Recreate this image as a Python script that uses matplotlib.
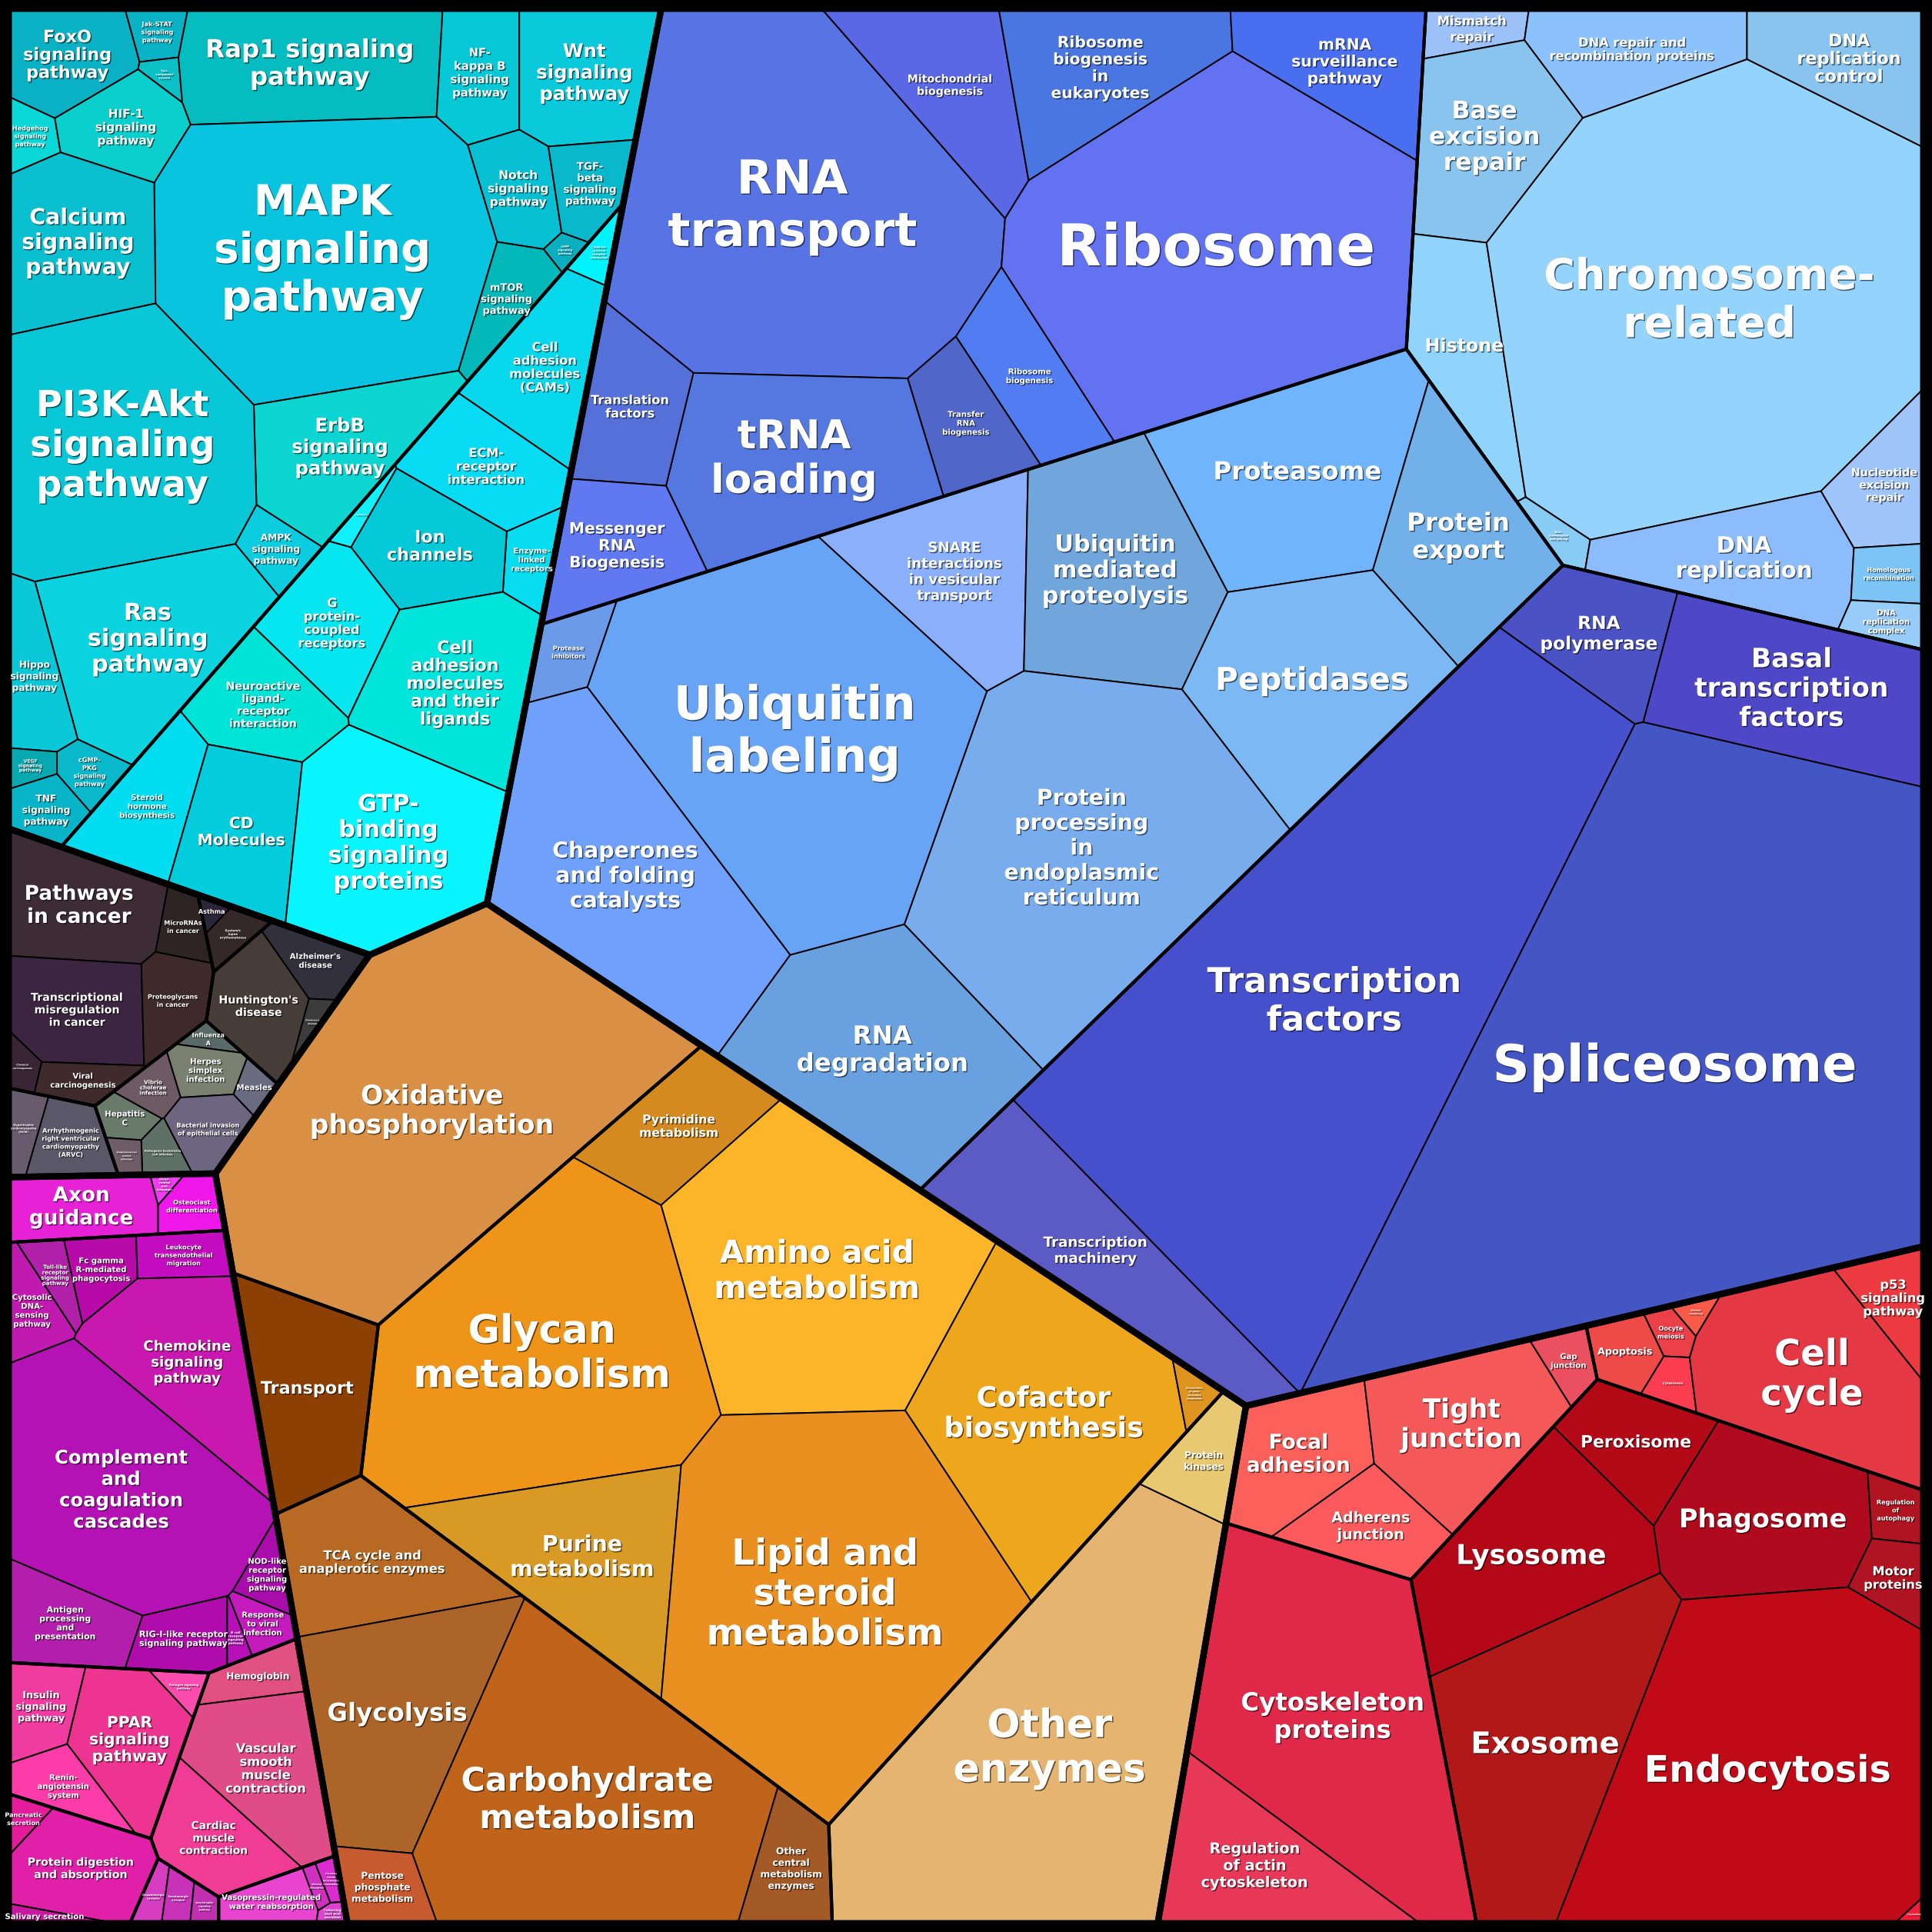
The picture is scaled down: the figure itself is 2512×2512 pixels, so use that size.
import numpy as np
import matplotlib
matplotlib.use("Agg")
import matplotlib.pyplot as plt
from matplotlib.patches import Polygon, Rectangle
import matplotlib.patheffects as pe

# ---------------------------------------------------------------------------
# data: protein mass share per pathway (arbitrary units), grouped by category
# ---------------------------------------------------------------------------
signal_transduction = [
    "FoxO\nsignaling\npathway", "Jak-STAT\nsignaling\npathway", "Two-\ncomponent\nsystem",
    "Rap1 signaling\npathway", "NF-\nkappa B\nsignaling\npathway", "Wnt\nsignaling\npathway",
    "Hedgehog\nsignaling\npathway", "HIF-1\nsignaling\npathway", "MAPK\nsignaling\npathway",
    "Calcium\nsignaling\npathway", "Notch\nsignaling\npathway", "TGF-\nbeta\nsignaling\npathway",
    "cAMP\nsignaling\npathway", "mTOR\nsignaling\npathway", "ErbB\nsignaling\npathway",
    "PI3K-Akt\nsignaling\npathway", "AMPK\nsignaling\npathway", "Ras\nsignaling\npathway",
    "Hippo\nsignaling\npathway", "VEGF\nsignaling\npathway", "cGMP-\nPKG\nsignaling\npathway",
    "TNF\nsignaling\npathway"]
signal_transduction_mass = [74, 17, 7, 188, 66, 112, 18, 62, 530, 146, 51, 41,
                            6, 41, 134, 366, 26, 206, 54, 10, 20, 26]

signaling_molecules = [
    "Cytokine-\ncytokine\nreceptor\ninteraction", "Cell\nadhesion\nmolecules\n(CAMs)",
    "ECM-\nreceptor\ninteraction", "Enzyme-\nlinked\nreceptors", "Cytokines", "Ion\nchannels",
    "G\nprotein-\ncoupled\nreceptors", "Cell\nadhesion\nmolecules\nand their\nligands",
    "Neuroactive\nligand-\nreceptor\ninteraction", "Steroid\nhormone\nbiosynthesis",
    "CD\nMolecules", "GTP-\nbinding\nsignaling\nproteins"]
signaling_molecules_mass = [12, 100, 86, 27, 8, 92, 89, 166, 83, 79, 110, 238]

cancers = ["Pathways\nin cancer", "MicroRNAs\nin cancer", "Transcriptional\nmisregulation\nin cancer",
           "Proteoglycans\nin cancer", "Chemical\ncarcinogenesis", "Viral\ncarcinogenesis"]
cancers_mass = [104, 19, 87, 38, 9, 21]
immune_diseases = ["Asthma", "Systemic\nlupus\nerythematosus"]
immune_diseases_mass = [4, 13.5]
neurodegenerative = ["Alzheimer's\ndisease", "Huntington's\ndisease", "Parkinson's\ndisease"]
neurodegenerative_mass = [29, 61, 6.5]
infectious = ["Influenza\nA", "Herpes\nsimplex\ninfection", "Measles", "Vibrio\ncholerae\ninfection",
              "Hepatitis\nC", "Bacterial invasion\nof epithelial cells",
              "Pathogenic Escherichia\ncoli infection", "Staphylococcus\naureus\ninfection"]
infectious_mass = [6, 21, 9, 15, 13, 31, 12, 7]
cardiovascular = ["Hypertrophic\ncardiomyopathy\n(HCM)",
                  "Arrhythmogenic\nright ventricular\ncardiomyopathy\n(ARVC)"]
cardiovascular_mass = [16, 34]

development = ["Axon\nguidance", "Dorso-\nventral\naxis\nformation", "Osteoclast\ndifferentiation"]
development_mass = [60, 3.5, 21]
immune_system = ["Cytosolic\nDNA-\nsensing\npathway", "Toll-like\nreceptor\nsignaling\npathway",
                 "Fc gamma\nR-mediated\nphagocytosis", "Leukocyte\ntransendothelial\nmigration",
                 "Chemokine\nsignaling\npathway", "Complement\nand\ncoagulation\ncascades",
                 "Antigen\nprocessing\nand\npresentation", "RIG-I-like receptor\nsignaling pathway",
                 "B cell\nreceptor\nsignaling\npathway", "Response\nto viral\ninfection",
                 "NOD-like\nreceptor\nsignaling\npathway"]
immune_system_mass = [30, 17, 28, 27, 146, 319, 66, 39, 6, 16, 18]
endocrine = ["Insulin\nsignaling\npathway", "PPAR\nsignaling\npathway",
             "Estrogen signaling\npathway", "Renin-\nangiotensin\nsystem"]
endocrine_mass = [39, 89, 9, 34]
circulatory = ["Hemoglobin", "Vascular\nsmooth\nmuscle\ncontraction", "Cardiac\nmuscle\ncontraction"]
circulatory_mass = [27, 109, 68]
digestive = ["Pancreatic\nsecretion", "Protein digestion\nand absorption", "Salivary secretion"]
digestive_mass = [9, 81, 7]
nervous = ["Dopaminergic\nsynapse", "Serotonergic\nsynapse", "Neurotrophin\nsignaling\npathway"]
nervous_mass = [9, 9, 6]
excretory = ["Vasopressin-regulated\nwater reabsorption", "Mineral\nabsorption",
             "Proximal\ntubule\nbicarbonate\nreclamation", "Collecting\nduct acid\nsecretion"]
excretory_mass = [26, 4, 5, 3.5]

translation = ["RNA\ntransport", "Mitochondrial\nbiogenesis", "Ribosome\nbiogenesis\nin\neukaryotes",
               "mRNA\nsurveillance\npathway", "Ribosome", "Ribosome\nbiogenesis",
               "Transfer\nRNA\nbiogenesis", "tRNA\nloading", "Translation\nfactors",
               "Messenger\nRNA\nBiogenesis"]
translation_mass = [726, 138, 159, 122, 714, 89, 73, 261, 96, 100]
replication_repair = ["Mismatch\nrepair", "DNA repair and\nrecombination proteins",
                      "DNA\nreplication\ncontrol", "Base\nexcision\nrepair", "Histone",
                      "Chromosome-\nrelated", "Non-\nhomologous\nend-joining", "DNA\nreplication",
                      "Nucleotide\nexcision\nrepair", "Homologous\nrecombination",
                      "DNA\nreplication\ncomplex"]
replication_repair_mass = [27, 112, 109, 155, 114, 1055, 14, 147, 65, 26, 20]
folding_degradation = ["SNARE\ninteractions\nin vesicular\ntransport", "Ubiquitin\nmediated\nproteolysis",
                       "Proteasome", "Protein\nexport", "Peptidases",
                       "Protein\nprocessing\nin\nendoplasmic\nreticulum", "Ubiquitin\nlabeling",
                       "Protease\ninhibitors", "Chaperones\nand folding\ncatalysts", "RNA\ndegradation"]
folding_degradation_mass = [167, 256, 281, 178, 271, 597, 675, 34, 381, 312]
transcription = ["RNA\npolymerase", "Basal\ntranscription\nfactors", "Spliceosome",
                 "Transcription\nfactors", "Transcription\nmachinery"]
transcription_mass = [104, 236, 1635, 1310, 225]

energy_metabolism = ["Oxidative\nphosphorylation"]
energy_metabolism_mass = [725]
core_metabolism = ["Pyrimidine\nmetabolism", "Amino acid\nmetabolism", "Glycan\nmetabolism",
                   "Cofactor\nbiosynthesis", "Biosynthesis\nof other\nsecondary\nmetabolites",
                   "Purine\nmetabolism", "Lipid and\nsteroid\nmetabolism"]
core_metabolism_mass = [101, 454, 555, 366, 11, 209, 673]
central_carbon = ["TCA cycle and\nanaplerotic enzymes", "Glycolysis", "Pentose\nphosphate\nmetabolism",
                  "Carbohydrate\nmetabolism", "Other\ncentral\nmetabolism\nenzymes"]
central_carbon_mass = [147, 230, 40, 503, 58]
enzyme_families = ["Other\nenzymes", "Protein\nkinases"]
enzyme_families_mass = [692, 47]
membrane_transport = ["Transport"]
membrane_transport_mass = [147]

cell_communication = ["Focal\nadhesion", "Tight\njunction", "Adherens\njunction", "Gap\njunction"]
cell_communication_mass = [102, 159, 69, 20]
growth_death = ["Apoptosis", "Oocyte\nmeiosis", "Nuclear\nmembrane", "Cytokinesis", "Cell\ncycle",
                "p53\nsignaling\npathway"]
growth_death_mass = [28, 11, 6, 13, 223, 40]
transport_catabolism = ["Peroxisome", "Lysosome", "Phagosome", "Regulation\nof\nautophagy",
                        "Motor\nproteins", "Exosome", "Endocytosis", "Crystallins"]
transport_catabolism_mass = [80, 214, 189, 21, 30, 325, 643, 2.5]
cell_motility = ["Cytoskeleton\nproteins", "Regulation\nof actin\ncytoskeleton"]
cell_motility_mass = [464, 147]

# ---------------------------------------------------------------------------
# layout: seed point of each Voronoi cell, fill colour, label cap height (px)
# ---------------------------------------------------------------------------
group_sites = {
    "Environmental Information Processing": (250, 300), "Human Diseases": (151, 583),
    "Organismal Systems": (156, 867), "Genetic Information Processing": (748, 397),
    "Metabolism": (474, 811), "Cellular Processes": (861, 877),
    "Signal transduction": (200, 250), "Signaling molecules": (350, 381),
    "Cancers": (70, 790), "Immune diseases": (143, 775), "Neurodegenerative": (169, 805),
    "Infectious": (122, 858), "Cardiovascular": (51, 882),
    "Development": (90, 970), "Immune system": (100, 1150), "Endocrine": (87, 1400),
    "Circulatory": (215, 1445), "Digestive": (54, 1505), "Nervous": (150, 1547),
    "Excretory": (251, 1547),
    "Translation": (800, 180), "Replication and repair": (1250, 206),
    "Folding and degradation": (891, 466), "Transcription": (1131, 713),
    "Energy": (330, 900), "Core": (565, 1172), "Membrane transport": (246, 1135),
    "Central carbon": (377, 1424), "Enzyme families": (824, 1408),
    "Cell communication": (1130, 1180), "Growth and death": (1375, 1129),
    "Transport and catabolism": (1303, 1341), "Cell motility": (1067, 1386),
}

cell_style = {
    "FoxO\nsignaling\npathway": (58, 47, "#0ab0c4", 11),
    "Jak-STAT\nsignaling\npathway": (127, 28, "#0ab2c6", 4),
    "Two-\ncomponent\nsystem": (131, 62, "#0cc0c8", 1.8),
    "Rap1 signaling\npathway": (250, 52, "#05bcc0", 16),
    "NF-\nkappa B\nsignaling\npathway": (390, 60, "#07c8d6", 7.3),
    "Wnt\nsignaling\npathway": (478, 60, "#0ac9da", 12),
    "Hedgehog\nsignaling\npathway": (23, 122, "#0ad8d8", 4),
    "HIF-1\nsignaling\npathway": (95, 110, "#0acfcc", 7.6),
    "MAPK\nsignaling\npathway": (255, 210, "#08c4de", 27),
    "Calcium\nsignaling\npathway": (62, 212, "#0ac0d0", 14),
    "Notch\nsignaling\npathway": (420, 160, "#08c0d4", 7.6),
    "TGF-\nbeta\nsignaling\npathway": (485, 150, "#0ab8cc", 6.6),
    "cAMP\nsignaling\npathway": (464, 208, "#0ab0c0", 1.8),
    "mTOR\nsignaling\npathway": (405, 255, "#03b8b8", 6.4),
    "ErbB\nsignaling\npathway": (280, 360, "#0dd6d2", 12),
    "PI3K-Akt\nsignaling\npathway": (95, 365, "#08c8d8", 23),
    "AMPK\nsignaling\npathway": (230, 438, "#0ccce0", 6),
    "Ras\nsignaling\npathway": (125, 525, "#0bd3df", 15),
    "Hippo\nsignaling\npathway": (33, 550, "#0ac8d8", 6),
    "VEGF\nsignaling\npathway": (27, 625, "#08a8b0", 3),
    "cGMP-\nPKG\nsignaling\npathway": (78, 625, "#0ab8cc", 4),
    "TNF\nsignaling\npathway": (38, 660, "#08b4c8", 6),
    "Cytokine-\ncytokine\nreceptor\ninteraction": (487, 215, "#00f4ff", 1.8),
    "Cell\nadhesion\nmolecules\n(CAMs)": (450, 300, "#08d8ec", 8),
    "ECM-\nreceptor\ninteraction": (395, 380, "#08dcf4", 8),
    "Enzyme-\nlinked\nreceptors": (430, 460, "#08dcf0", 5),
    "Cytokines": (300, 425, "#10f0ff", 1.2),
    "Ion\nchannels": (352, 455, "#03c9d9", 11),
    "G\nprotein-\ncoupled\nreceptors": (275, 515, "#05e6f0", 8),
    "Cell\nadhesion\nmolecules\nand their\nligands": (370, 560, "#00e4dc", 11),
    "Neuroactive\nligand-\nreceptor\ninteraction": (220, 572, "#00e4d8", 7),
    "Steroid\nhormone\nbiosynthesis": (120, 655, "#00dcf0", 5),
    "CD\nMolecules": (200, 678, "#03ccdc", 10),
    "GTP-\nbinding\nsignaling\nproteins": (315, 690, "#08f4ff", 15),

    "Pathways\nin cancer": (65, 740, "#3d2b35", 13),
    "MicroRNAs\nin cancer": (145, 755, "#2e2424", 4),
    "Transcriptional\nmisregulation\nin cancer": (60, 822, "#3b2540", 7),
    "Proteoglycans\nin cancer": (132, 820, "#3e2a2a", 4),
    "Chemical\ncarcinogenesis": (16, 868, "#3a2535", 1.5),
    "Viral\ncarcinogenesis": (58, 878, "#3f2a2c", 5),
    "Asthma": (170, 746, "#2a2538", 4),
    "Systemic\nlupus\nerythematosus": (190, 765, "#352828", 2),
    "Alzheimer's\ndisease": (255, 785, "#32303c", 5),
    "Huntington's\ndisease": (205, 820, "#473d38", 7),
    "Parkinson's\ndisease": (253, 833, "#3c3c3c", 1),
    "Influenza\nA": (164, 845, "#5a6a68", 4),
    "Herpes\nsimplex\ninfection": (160, 875, "#7a8070", 5),
    "Measles": (200, 890, "#6a6a80", 5),
    "Vibrio\ncholerae\ninfection": (117, 888, "#6e5a64", 3.5),
    "Hepatitis\nC": (102, 915, "#6a7a6a", 5),
    "Bacterial invasion\nof epithelial cells": (163, 925, "#6e6680", 4),
    "Pathogenic Escherichia\ncoli infection": (130, 942, "#5e7068", 1.8),
    "Staphylococcus\naureus\ninfection": (100, 943, "#6e5c66", 1.5),
    "Hypertrophic\ncardiomyopathy\n(HCM)": (20, 925, "#6a5a6e", 1.8),
    "Arrhythmogenic\nright ventricular\ncardiomyopathy\n(ARVC)": (58, 936, "#5a5868", 4),

    "Axon\nguidance": (62, 985, "#e722d6", 13),
    "Dorso-\nventral\naxis\nformation": (133, 966, "#f03cf0", 1.8),
    "Osteoclast\ndifferentiation": (155, 985, "#ee16e8", 4),
    "Cytosolic\nDNA-\nsensing\npathway": (27, 1055, "#c01ab0", 5),
    "Toll-like\nreceptor\nsignaling\npathway": (50, 1040, "#b020a8", 3.5),
    "Fc gamma\nR-mediated\nphagocytosis": (95, 1030, "#b80aa8", 5),
    "Leukocyte\ntransendothelial\nmigration": (160, 1028, "#c40cc0", 4),
    "Chemokine\nsignaling\npathway": (162, 1112, "#c818b0", 9),
    "Complement\nand\ncoagulation\ncascades": (85, 1205, "#b412b4", 12),
    "Antigen\nprocessing\nand\npresentation": (40, 1310, "#b41eac", 5.4),
    "RIG-I-like receptor\nsignaling pathway": (115, 1335, "#b00cac", 5.5),
    "B cell\nreceptor\nsignaling\npathway": (172, 1335, "#b810b8", 2),
    "Response\nto viral\ninfection": (205, 1322, "#c41cbc", 5),
    "NOD-like\nreceptor\nsignaling\npathway": (220, 1285, "#a80caa", 5),
    "Insulin\nsignaling\npathway": (30, 1392, "#f03ca0", 6.3),
    "PPAR\nsignaling\npathway": (105, 1410, "#ec3490", 10),
    "Estrogen signaling\npathway": (148, 1370, "#fc4cb0", 1.8),
    "Renin-\nangiotensin\nsystem": (50, 1452, "#fc3ca8", 5),
    "Hemoglobin": (205, 1365, "#e05080", 6),
    "Vascular\nsmooth\nmuscle\ncontraction": (215, 1445, "#e04c88", 8),
    "Cardiac\nmuscle\ncontraction": (170, 1495, "#f03c94", 6.8),
    "Pancreatic\nsecretion": (20, 1478, "#e41c9c", 4),
    "Protein digestion\nand absorption": (65, 1520, "#e020a8", 7),
    "Salivary secretion": (58, 1558, "#c818a0", 5),
    "Dopaminergic\nsynapse": (125, 1540, "#d63cc0", 1.8),
    "Serotonergic\nsynapse": (147, 1543, "#c832b8", 1.8),
    "Neurotrophin\nsignaling\npathway": (167, 1545, "#c030b0", 1.5),
    "Vasopressin-regulated\nwater reabsorption": (220, 1545, "#e844d0", 5),
    "Mineral\nabsorption": (261, 1530, "#d030c0", 1.5),
    "Proximal\ntubule\nbicarbonate\nreclamation": (274, 1525, "#dc2cd0", 1.5),
    "Collecting\nduct acid\nsecretion": (276, 1554, "#e040d0", 2),

    "RNA\ntransport": (655, 180, "#5873e4", 30),
    "Mitochondrial\nbiogenesis": (775, 75, "#5a68e6", 7),
    "Ribosome\nbiogenesis\nin\neukaryotes": (890, 55, "#4a76e2", 10),
    "mRNA\nsurveillance\npathway": (1080, 45, "#4a6ef0", 10),
    "Ribosome": (985, 205, "#6272f0", 37),
    "Ribosome\nbiogenesis": (838, 300, "#527cf2", 5),
    "Transfer\nRNA\nbiogenesis": (788, 333, "#5066c8", 5),
    "tRNA\nloading": (650, 375, "#5478e0", 25.5),
    "Translation\nfactors": (522, 344, "#5570d8", 8),
    "Messenger\nRNA\nBiogenesis": (515, 440, "#6078f0", 10),
    "Mismatch\nrepair": (1193, 28, "#9cc0f8", 8.2),
    "DNA repair and\nrecombination proteins": (1310, 45, "#8cc2fc", 8),
    "DNA\nreplication\ncontrol": (1490, 45, "#88c4ee", 11),
    "Base\nexcision\nrepair": (1210, 120, "#88c4ee", 15.5),
    "Histone": (1190, 285, "#90d4fc", 11.7),
    "Chromosome-\nrelated": (1385, 255, "#94d4fc", 27.3),
    "Non-\nhomologous\nend-joining": (1268, 432, "#88ccf6", 1.8),
    "DNA\nreplication": (1428, 459, "#8cbcfc", 14.5),
    "Nucleotide\nexcision\nrepair": (1530, 400, "#a0c4fc", 7),
    "Homologous\nrecombination": (1534, 465, "#7cc4f6", 4),
    "DNA\nreplication\ncomplex": (1532, 505, "#98ccf8", 5),
    "SNARE\ninteractions\nin vesicular\ntransport": (766, 463, "#8ab0fc", 9),
    "Ubiquitin\nmediated\nproteolysis": (910, 466, "#70a6dc", 15),
    "Proteasome": (1045, 395, "#70b4fc", 16),
    "Protein\nexport": (1184, 436, "#72b0ea", 16),
    "Peptidases": (1067, 540, "#7cb8f4", 20),
    "Protein\nprocessing\nin\nendoplasmic\nreticulum": (885, 680, "#78acec", 14),
    "Ubiquitin\nlabeling": (645, 595, "#68a4f6", 30),
    "Protease\ninhibitors": (466, 534, "#6a9ae8", 4),
    "Chaperones\nand folding\ncatalysts": (509, 698, "#6ea0fc", 14),
    "RNA\ndegradation": (712, 845, "#68a0e0", 16),
    "RNA\npolymerase": (1295, 513, "#4a52c4", 11.5),
    "Basal\ntranscription\nfactors": (1480, 562, "#4e48c8", 17),
    "Spliceosome": (1390, 950, "#4455c4", 33),
    "Transcription\nfactors": (1090, 800, "#4650cc", 22),
    "Transcription\nmachinery": (870, 1015, "#5c5ac4", 9),

    "Oxidative\nphosphorylation": (340, 905, "#da9044", 17),
    "Pyrimidine\nmetabolism": (549, 917, "#d48a1e", 7.7),
    "Amino acid\nmetabolism": (662, 1045, "#fcb428", 20),
    "Glycan\nmetabolism": (445, 1107, "#ee9418", 25),
    "Cofactor\nbiosynthesis": (865, 1155, "#eea61c", 18),
    "Biosynthesis\nof other\nsecondary\nmetabolites": (970, 1135, "#e09420", 1.5),
    "Purine\nmetabolism": (470, 1268, "#d89a24", 14),
    "Lipid and\nsteroid\nmetabolism": (668, 1285, "#ea9020", 23),
    "TCA cycle and\nanaplerotic enzymes": (303, 1259, "#b86a24", 8),
    "Glycolysis": (328, 1395, "#ac6428", 16),
    "Pentose\nphosphate\nmetabolism": (316, 1526, "#c85a30", 6),
    "Carbohydrate\nmetabolism": (487, 1465, "#c0641c", 21),
    "Other\ncentral\nmetabolism\nenzymes": (650, 1513, "#a45a26", 6),
    "Other\nenzymes": (848, 1405, "#e4b470", 25),
    "Protein\nkinases": (955, 1180, "#e8c870", 6),
    "Transport": (256, 1130, "#8c4004", 11),

    "Focal\nadhesion": (1060, 1175, "#fc605a", 13),
    "Tight\njunction": (1187, 1160, "#f45858", 17),
    "Adherens\njunction": (1110, 1245, "#fc5a5c", 9.4),
    "Gap\njunction": (1275, 1105, "#ea5060", 5),
    "Apoptosis": (1322, 1100, "#ee4a48", 6.3),
    "Oocyte\nmeiosis": (1360, 1082, "#ec4048", 4),
    "Nuclear\nmembrane": (1380, 1065, "#fc5a48", 1.5),
    "Cytokinesis": (1358, 1122, "#fc3c50", 2),
    "Cell\ncycle": (1455, 1110, "#e43844", 23),
    "p53\nsignaling\npathway": (1530, 1050, "#ec3a40", 8),
    "Peroxisome": (1323, 1171, "#b40a18", 10.8),
    "Lysosome": (1225, 1270, "#b40818", 17.5),
    "Phagosome": (1435, 1240, "#b00a1e", 16.5),
    "Regulation\nof\nautophagy": (1543, 1233, "#b01420", 4),
    "Motor\nproteins": (1537, 1290, "#b01422", 8),
    "Exosome": (1270, 1370, "#b21818", 19),
    "Endocytosis": (1450, 1440, "#c00a18", 23.5),
    "Crystallins": (1555, 1552, "#f01c38", 1.5),
    "Cytoskeleton\nproteins": (1095, 1410, "#e02848", 16),
    "Regulation\nof actin\ncytoskeleton": (1018, 1514, "#e83858", 9.5),
}

tree = {
    "Environmental Information Processing": {
        "Signal transduction": (signal_transduction, signal_transduction_mass),
        "Signaling molecules": (signaling_molecules, signaling_molecules_mass)},
    "Human Diseases": {
        "Cancers": (cancers, cancers_mass),
        "Immune diseases": (immune_diseases, immune_diseases_mass),
        "Neurodegenerative": (neurodegenerative, neurodegenerative_mass),
        "Infectious": (infectious, infectious_mass),
        "Cardiovascular": (cardiovascular, cardiovascular_mass)},
    "Organismal Systems": {
        "Development": (development, development_mass),
        "Immune system": (immune_system, immune_system_mass),
        "Endocrine": (endocrine, endocrine_mass),
        "Circulatory": (circulatory, circulatory_mass),
        "Digestive": (digestive, digestive_mass),
        "Nervous": (nervous, nervous_mass),
        "Excretory": (excretory, excretory_mass)},
    "Genetic Information Processing": {
        "Translation": (translation, translation_mass),
        "Replication and repair": (replication_repair, replication_repair_mass),
        "Folding and degradation": (folding_degradation, folding_degradation_mass),
        "Transcription": (transcription, transcription_mass)},
    "Metabolism": {
        "Energy": (energy_metabolism, energy_metabolism_mass),
        "Core": (core_metabolism, core_metabolism_mass),
        "Membrane transport": (membrane_transport, membrane_transport_mass),
        "Central carbon": (central_carbon, central_carbon_mass),
        "Enzyme families": (enzyme_families, enzyme_families_mass)},
    "Cellular Processes": {
        "Cell communication": (cell_communication, cell_communication_mass),
        "Growth and death": (growth_death, growth_death_mass),
        "Transport and catabolism": (transport_catabolism, transport_catabolism_mass),
        "Cell motility": (cell_motility, cell_motility_mass)},
}


# ---------------------------------------------------------------------------
# power-diagram (weighted Voronoi) treemap
# ---------------------------------------------------------------------------
def clip(poly, tags, a, b, c, tag):
    out, otags = [], []
    n = len(poly)
    for k in range(n):
        p, q = poly[k], poly[(k + 1) % n]
        fp = a * p[0] + b * p[1] - c
        fq = a * q[0] + b * q[1] - c
        if fp <= 0:
            out.append(p)
            otags.append(tags[k])
            if fq > 0:
                t = fp / (fp - fq)
                out.append((p[0] + t * (q[0] - p[0]), p[1] + t * (q[1] - p[1])))
                otags.append(tag)
        elif fq <= 0:
            t = fp / (fp - fq)
            out.append((p[0] + t * (q[0] - p[0]), p[1] + t * (q[1] - p[1])))
            otags.append(tags[k])
    return out, otags


def power_cells(region, sites, w):
    cells = []
    for i, (xi, yi) in enumerate(sites):
        poly, tags = list(region), [-1] * len(region)
        for j, (xj, yj) in enumerate(sites):
            if j == i:
                continue
            a, b = 2 * (xj - xi), 2 * (yj - yi)
            c = xj * xj + yj * yj - xi * xi - yi * yi - w[j] + w[i]
            poly, tags = clip(poly, tags, a, b, c, j)
            if len(poly) < 3:
                poly, tags = [], []
                break
        cells.append((poly, tags))
    return cells


def poly_area(poly):
    if len(poly) < 3:
        return 0.0
    p = np.asarray(poly)
    x, y = p[:, 0], p[:, 1]
    return 0.5 * abs(np.dot(x, np.roll(y, -1)) - np.dot(y, np.roll(x, -1)))


def centroid(poly):
    p = np.asarray(poly)
    x, y = p[:, 0], p[:, 1]
    x1, y1 = np.roll(x, -1), np.roll(y, -1)
    cr = x * y1 - x1 * y
    a = cr.sum() / 2
    if abs(a) < 1e-9:
        return x.mean(), y.mean()
    return ((x + x1) * cr).sum() / (6 * a), ((y + y1) * cr).sum() / (6 * a)


def inside(poly, pt):
    s = 0
    n = len(poly)
    for k in range(n):
        (ax_, ay_), (bx_, by_) = poly[k], poly[(k + 1) % n]
        cr = (bx_ - ax_) * (pt[1] - ay_) - (by_ - ay_) * (pt[0] - ax_)
        if abs(cr) > 1e-9:
            if s == 0:
                s = np.sign(cr)
            elif np.sign(cr) != s:
                return False
    return True


def pull_inside(poly, pt):
    cx, cy = centroid(poly)
    x, y = pt
    while not inside(poly, (x, y)):
        x, y = cx + 0.9 * (x - cx), cy + 0.9 * (y - cy)
    return (x, y)


def solve(region, sites, mass, steps=60):
    n = len(sites)
    if n == 1:
        return [list(region)]
    sites = [pull_inside(region, s) for s in sites]
    P = np.asarray(sites, float)
    total = poly_area(region)
    target = np.asarray(mass, float)
    target = target / target.sum() * total
    w = np.zeros(n)
    cells = power_cells(region, sites, w)
    A = np.array([poly_area(c) for c, _ in cells])
    for _ in range(steps):
        err = target - A
        e0 = np.abs(err).sum()
        if e0 < 1e-4 * total:
            break
        H = np.zeros((n, n))
        for i, (poly, tags) in enumerate(cells):
            m = len(poly)
            for k in range(m):
                j = tags[k]
                if j < 0:
                    continue
                (x0, y0), (x1, y1) = poly[k], poly[(k + 1) % m]
                g = np.hypot(x1 - x0, y1 - y0) / (2 * np.hypot(*(P[i] - P[j])))
                H[i, j] -= g
                H[i, i] += g
        H[0, :] = 0
        H[0, 0] = 1
        rhs = err.copy()
        rhs[0] = 0
        dw = np.linalg.lstsq(H, rhs, rcond=None)[0]
        floor = 0.5 * min(A.min(), target.min())
        t = 1.0
        while True:
            w_try = w + t * dw
            c_try = power_cells(region, sites, w_try)
            A_try = np.array([poly_area(c) for c, _ in c_try])
            if (A_try.min() > floor and np.abs(target - A_try).sum() <= (1 - t / 2) * e0) or t < 1e-4:
                break
            t /= 2
        w, cells, A = w_try, c_try, A_try
    return [c for c, _ in cells]


square = [(7, 7), (1561, 7), (1561, 1561), (7, 1561)]

top_names = list(tree)
top_mass = [sum(sum(m) for _, m in tree[g].values()) for g in top_names]
top_cells = solve(square, [group_sites[g] for g in top_names], top_mass)

leaves, mids = [], []
for g, region in zip(top_names, top_cells):
    sub = tree[g]
    sub_names = list(sub)
    sub_cells = solve(region, [group_sites[s] for s in sub_names],
                      [sum(sub[s][1]) for s in sub_names])
    for s, sreg in zip(sub_names, sub_cells):
        labels, mass = sub[s]
        polys = solve(sreg, [cell_style[l][:2] for l in labels], mass)
        leaves += list(zip(labels, polys))
        mids.append(sreg)

# ---------------------------------------------------------------------------
# drawing
# ---------------------------------------------------------------------------
fig = plt.figure(figsize=(12.56, 12.56), dpi=200, facecolor="black")
ax = fig.add_axes([0, 0, 1, 1])
ax.set_xlim(0, 1568)
ax.set_ylim(1568, 0)
ax.axis("off")

for label, poly in leaves:
    if len(poly) < 3:
        continue
    ax.add_patch(Polygon(poly, closed=True, facecolor=cell_style[label][2],
                         edgecolor="black", lw=0.7, joinstyle="round"))
for poly in mids:
    if len(poly) >= 3:
        ax.add_patch(Polygon(poly, closed=True, fill=False, edgecolor="black",
                             lw=1.5, joinstyle="round"))
for poly in top_cells:
    if len(poly) >= 3:
        ax.add_patch(Polygon(poly, closed=True, fill=False, edgecolor="black",
                             lw=3.0, joinstyle="round"))
ax.add_patch(Rectangle((7, 7), 1554, 1554, fill=False, edgecolor="black", lw=3.0))

shadow = [pe.withSimplePatchShadow(offset=(0.5, -0.5), shadow_rgbFace="black", alpha=0.6)]
for label, poly in leaves:
    if len(poly) < 3:
        continue
    cx, cy = centroid(poly)
    ax.text(cx, cy, label, ha="center", va="center", color="white",
            fontsize=cell_style[label][3] * 0.73, fontweight="bold",
            family="DejaVu Sans", linespacing=1.2, path_effects=shadow)

fig.savefig("out.png", dpi=200, facecolor="black")
